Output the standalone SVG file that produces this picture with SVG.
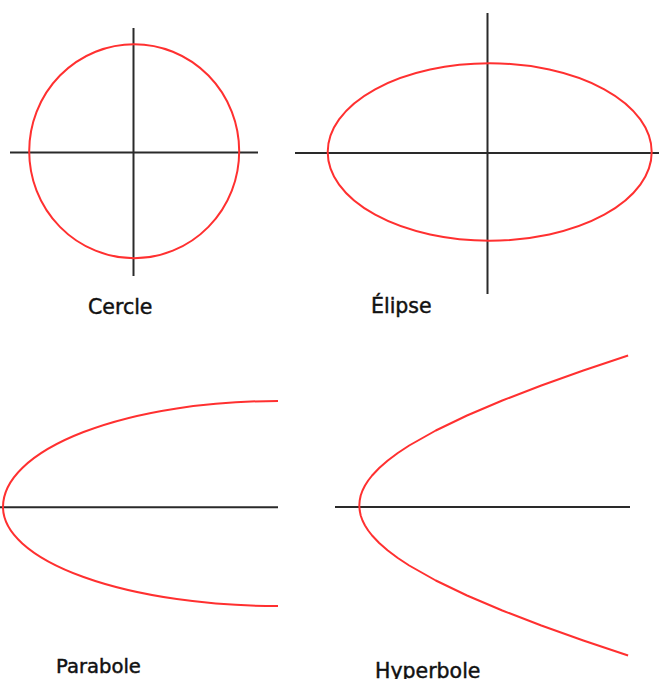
<svg xmlns="http://www.w3.org/2000/svg" width="660" height="679" viewBox="0 0 660 679">
<style>
.axis{stroke:#2a2a2a;stroke-width:2;fill:none}
.curve{stroke:#ff3030;stroke-width:2;fill:none;stroke-linejoin:round}
.label{font-family:"DejaVu Sans",Verdana,sans-serif;font-size:20.5px;fill:#111;stroke:#111;stroke-width:0.45}
</style>
<rect width="660" height="679" fill="#fff"/>
<g id="cercle">
<line class="axis" x1="10" y1="152.5" x2="258" y2="152.5"/>
<line class="axis" x1="133.5" y1="28" x2="133.5" y2="276"/>
<ellipse class="curve" cx="134.2" cy="151.2" rx="105" ry="107"/>
<text class="label" x="88" y="314">Cercle</text>
</g>
<g id="elipse">
<line class="axis" x1="295" y1="153" x2="659" y2="153"/>
<line class="axis" x1="487.5" y1="13" x2="487.5" y2="294"/>
<ellipse class="curve" cx="489.7" cy="152" rx="162" ry="88.7"/>
<text class="label" x="371" y="313">Élipse</text>
</g>
<g id="parabole">
<line class="axis" x1="0" y1="507.3" x2="278" y2="507.3"/>
<path class="curve" d="M278,401 A275,106 0 0 0 3,507 A275,99 0 0 0 278,606"/>
<text class="label" x="56" y="673" style="font-size:19.6px">Parabole</text>
</g>
<g id="hyperbole">
<line class="axis" x1="335" y1="507" x2="630" y2="507"/>
<path class="curve" d="M628.1,355.5 L583.3,370.5 L541.3,385.5 L502.3,400.5 L467,415.5 L435.8,430.5 L409.2,445.5 L397.8,453 L387.8,460.5 L379.2,468 L372.1,475.5 L368.2,480.5 L365,485.5 L362.5,490.5 L360.7,495.5 L359.7,500.5 L359.3,505.5 L359.7,510.5 L360.7,515.5 L362.5,520.5 L365,525.5 L368.2,530.5 L372.1,535.5 L379.2,543 L387.8,550.5 L397.8,558 L409.2,565.5 L435.8,580.5 L467,595.5 L502.3,610.5 L541.3,625.5 L583.3,640.5 L628.1,655.5"/>
<text class="label" x="375" y="678">Hyperbole</text>
</g>
</svg>
